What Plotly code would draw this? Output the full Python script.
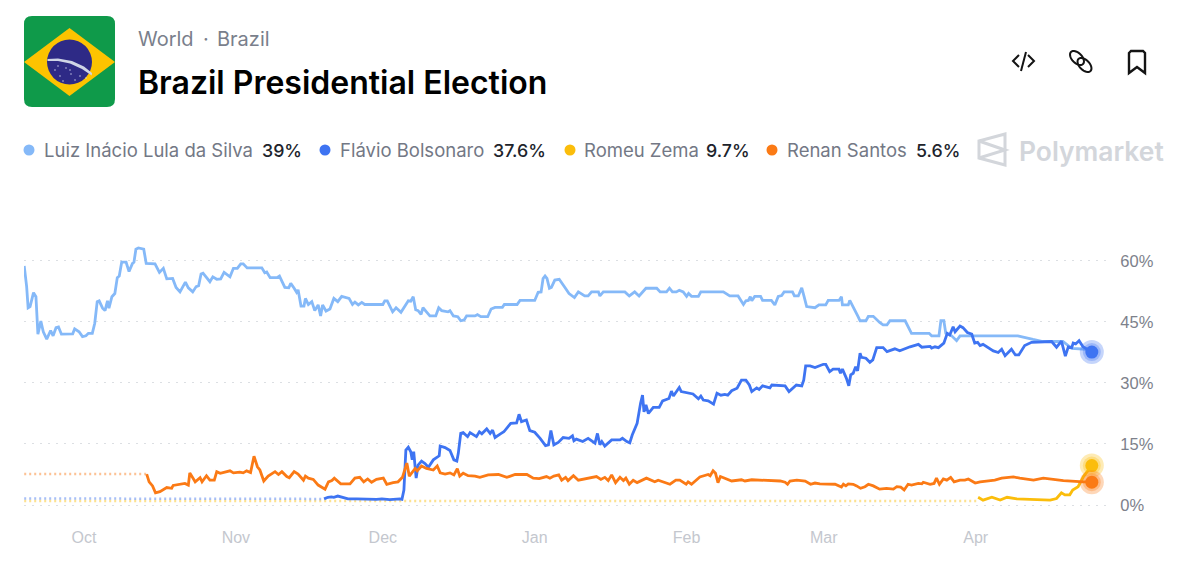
import math
import pandas as pd
import plotly.graph_objects as go

BASE = pd.Timestamp("2025-10-01")

tick_days = [0, 31, 61, 92, 123, 151, 182]
tick_labels = ["Oct", "Nov", "Dec", "Jan", "Feb", "Mar", "Apr"]
y_ticks = [0, 15, 30, 45, 60]
y_tick_labels = ["0%", "15%", "30%", "45%", "60%"]

lula_days = [-12.2,-11.7,-11.4,-11.0,-10.3,-9.8,-9.4,-8.8,-8.3,-7.6,-6.8,-6.3,-5.7,-5.2,-4.6,-3.5,-2.3,-1.9,-1.0,-0.3,0.4,0.9,1.7,2.2,2.7,3.1,3.8,4.3,4.8,5.1,5.7,6.3,6.8,7.2,7.7,8.6,9.2,9.9,10.2,10.6,11.1,12.2,12.7,14.5,15.4,16.2,16.9,18.1,18.8,19.6,20.7,21.3,22.2,22.9,23.4,23.9,24.3,25.7,26.3,27.1,27.9,28.6,29.8,30.5,31.3,32.0,32.5,33.3,36.3,36.9,37.3,38.0,39.4,39.9,40.3,41.0,41.8,42.2,42.9,43.4,43.7,44.3,44.9,45.2,45.8,46.5,47.1,47.8,48.3,48.7,49.4,50.2,51.0,51.8,52.6,54.1,54.8,55.3,56.0,56.7,57.3,61.0,61.4,61.9,63.0,63.7,64.7,65.5,66.2,66.7,67.2,67.7,68.2,68.8,69.2,69.9,70.6,71.8,72.4,73.0,74.3,74.7,75.4,76.3,76.9,77.6,78.1,79.8,80.3,81.0,82.4,83.1,83.9,85.4,85.8,88.4,89.0,92.0,92.7,93.3,93.7,94.1,94.5,95.0,95.4,96.1,97.0,98.2,99.0,100.1,100.9,102.2,102.9,103.6,105.0,105.3,106.0,110.4,111.3,112.4,113.3,114.7,116.9,117.6,118.9,119.5,120.1,120.9,121.5,122.3,123.0,123.4,124.0,125.4,125.9,130.5,131.8,133.5,134.6,135.1,135.6,136.0,136.3,136.9,138.1,138.5,140.3,141.0,141.7,142.4,142.9,144.6,145.0,145.8,146.5,146.9,147.5,149.2,150.0,151.4,151.9,154.1,154.6,154.8,156.0,156.3,157.0,158.0,158.4,159.6,160.1,161.1,162.4,163.1,163.9,164.5,167.6,168.9,172.5,173.0,174.5,174.9,175.5,175.9,177.1,178.1,178.8,190.6,193.7,195.7,199.8,201.6,204.6,205.7]
lula_values = [58.8,53.7,48.5,48.8,52.2,51.2,42.0,45.2,42.6,40.8,42.9,41.6,43.6,43.8,42.0,42.0,42.1,43.3,42.6,41.4,41.6,42.2,42.2,44.7,50.0,50.2,48.4,47.8,50.2,48.4,51.2,52.0,55.9,56.3,59.7,59.7,57.4,59.4,59.7,62.9,63.2,62.9,59.4,59.3,57.2,58.2,55.6,55.7,53.5,52.4,54.8,53.4,52.4,53.7,53.9,56.8,57.0,54.9,56.1,55.5,55.6,57.2,56.1,58.2,58.2,59.3,59.3,58.3,58.3,57.1,57.3,55.9,55.9,56.3,55.3,53.5,53.4,54.5,53.3,52.3,52.9,48.9,48.9,50.8,49.3,50.0,47.8,49.2,46.5,49.2,47.7,48.2,50.8,50.0,51.3,50.8,49.3,49.9,49.2,49.8,49.3,49.3,50.2,50.2,47.5,48.5,47.4,48.8,50.2,50.1,51.2,48.0,47.8,46.9,48.5,47.5,46.5,46.5,48.5,47.8,47.5,47.8,46.5,46.3,45.3,45.5,46.5,46.5,46.8,46.3,46.3,48.2,48.6,48.6,49.3,49.3,50.3,50.3,52.3,52.4,55.7,56.3,55.7,53.3,53.5,55.3,55.5,53.4,52.0,51.0,52.4,51.4,51.4,52.4,52.4,51.4,52.4,52.4,51.4,52.4,51.4,53.3,53.3,52.4,52.4,53.3,52.4,52.4,52.8,52.4,51.3,52.0,51.3,51.3,52.4,52.4,51.4,51.4,49.3,50.2,50.3,51.2,50.2,51.3,51.3,50.3,50.3,49.2,51.3,51.5,52.4,52.4,51.4,51.4,53.4,51.6,48.8,48.5,49.2,49.2,50.3,50.3,51.2,49.2,49.2,50.3,48.8,46.3,45.3,45.3,46.4,46.4,44.9,44.3,44.3,45.3,45.3,42.2,42.2,41.6,41.6,45.3,45.3,42.2,41.6,40.4,41.6,41.6,40.7,40.2,40.2,38.5,38.3,38.0]

flavio_days = [49.0,49.8,50.5,51.0,51.8,52.9,53.9,55.7,57.7,59.7,60.8,62.4,64.5,64.9,65.3,65.7,66.2,66.7,67.0,67.3,67.8,68.2,68.9,69.6,70.3,71.3,72.5,72.7,73.7,74.7,75.5,76.1,76.4,76.9,77.4,78.3,78.8,80.1,80.7,81.2,82.2,82.9,83.4,83.9,85.0,85.7,87.1,88.3,88.8,89.3,90.3,91.0,92.0,93.1,94.2,94.8,95.3,95.9,96.8,97.8,99.0,99.7,100.0,100.5,101.8,102.9,104.3,104.8,105.3,105.7,106.3,107.7,109.4,109.9,110.8,111.4,111.9,112.9,113.6,114.0,114.3,114.7,115.2,116.2,117.4,118.1,119.4,119.9,120.3,121.5,121.9,123.3,124.3,125.4,125.9,126.4,127.4,128.5,129.2,130.0,130.8,131.4,132.2,133.3,134.2,135.1,135.8,136.3,137.3,137.8,138.5,140.0,140.4,143.1,143.9,145.4,146.5,146.9,147.3,148.2,149.2,150.9,151.4,152.2,152.9,154.1,154.4,154.8,155.6,156.1,156.5,157.0,157.5,157.9,158.4,158.7,159.6,160.4,161.0,161.8,163.1,163.9,165.5,166.5,168.6,170.3,171.0,172.7,173.0,173.7,174.4,175.5,176.2,176.7,177.4,177.8,178.8,179.4,180.3,181.2,181.8,182.4,182.9,183.5,185.6,186.6,187.3,188.0,189.3,190.1,190.8,192.0,193.4,197.5,198.5,199.5,200.3,200.9,201.6,201.9,202.4,203.1,203.9,205.7]
flavio_values = [1.5,1.9,2.0,1.9,2.2,1.9,1.5,1.5,1.4,1.4,1.5,1.3,1.5,1.4,3.7,13.5,14.2,13.1,11.1,13.1,6.6,9.8,10.8,10.2,9.3,11.1,12.1,14.5,14.1,13.4,11.1,10.8,12.7,17.6,17.8,16.8,17.8,16.8,18.0,17.5,18.7,17.6,18.4,16.6,17.5,18.0,20.1,20.2,22.3,20.5,20.9,18.3,17.9,16.4,14.6,14.8,18.3,14.8,15.4,16.6,16.4,17.0,15.8,16.2,15.6,16.4,15.2,17.6,14.8,15.6,14.5,16.0,16.0,16.4,15.6,15.3,17.2,20.1,25.0,27.0,22.9,24.6,22.5,24.0,24.0,25.6,26.2,28.0,26.8,28.9,27.9,27.5,27.3,26.1,26.8,25.8,25.6,24.8,27.5,27.0,27.2,27.0,28.1,28.7,30.7,30.7,29.5,27.9,28.8,28.4,29.3,28.8,29.5,29.3,27.9,29.5,29.3,30.7,34.2,34.2,33.8,34.6,34.6,32.8,33.4,33.4,32.4,33.4,31.2,29.3,32.0,32.4,34.0,33.0,37.3,36.3,36.1,35.1,35.7,38.7,38.7,37.7,38.4,37.9,38.9,39.5,38.8,39.0,38.6,38.9,38.7,39.8,42.2,41.8,43.8,42.6,44.0,43.6,42.4,42.0,39.8,40.0,39.2,39.5,37.9,37.5,38.3,36.7,38.3,36.9,36.9,39.2,40.0,40.2,38.8,40.3,36.6,38.9,38.7,39.8,39.6,40.4,38.9,37.6]

renan_days = [12.8,13.3,14.0,14.6,15.5,16.9,17.9,18.2,20.6,21.3,21.6,22.7,23.7,24.1,25.0,25.7,26.6,27.1,27.8,29.8,30.5,31.8,32.5,33.2,34.0,34.7,35.4,35.9,36.7,37.6,39.0,39.7,40.4,41.4,41.9,42.9,43.7,44.8,45.2,45.8,46.8,47.8,49.2,49.9,50.6,51.1,52.4,54.3,55.3,56.3,57.1,57.9,58.7,59.7,61.1,61.8,63.1,64.1,65.0,65.9,66.4,67.6,68.0,68.9,69.9,71.3,72.1,72.7,73.7,74.7,75.5,76.2,76.7,77.4,78.4,79.8,80.8,82.5,84.6,86.3,88.0,90.4,91.7,92.9,94.4,95.1,95.9,96.9,97.5,98.3,98.8,99.9,100.9,103.3,104.6,105.5,106.3,107.0,107.7,108.5,109.4,110.1,110.6,111.3,112.1,112.9,114.8,116.5,117.2,119.6,120.8,121.6,122.9,123.3,124.0,125.7,126.5,127.4,127.8,128.4,128.9,129.4,129.9,131.2,132.2,134.2,134.9,136.3,142.1,143.1,143.6,144.1,145.5,147.2,148.3,149.2,150.2,153.3,154.6,155.0,155.5,156.0,157.0,157.7,158.5,159.4,160.1,161.1,162.4,163.8,165.2,165.9,166.7,167.4,168.2,168.9,170.3,171.0,171.3,172.7,173.5,174.0,174.6,175.4,176.1,176.9,177.6,178.8,179.8,180.5,181.9,182.9,185.9,187.3,189.7,191.0,193.8,195.8,199.9,204.0,205.7]
renan_values = [7.6,5.7,4.7,3.0,3.3,4.3,4.1,4.8,5.3,4.9,7.9,5.7,6.7,5.7,7.2,6.1,6.1,8.2,7.8,8.4,7.9,8.1,7.9,8.4,8.0,12.0,9.4,8.6,5.9,7.1,8.2,7.5,8.2,7.0,6.7,8.2,7.6,6.1,7.1,6.6,6.3,4.9,3.9,5.7,6.0,6.6,5.2,5.2,6.6,6.8,5.7,6.4,5.6,6.3,6.6,5.1,5.5,5.7,6.8,10.3,7.1,9.0,8.4,9.6,9.0,8.6,9.6,7.9,7.6,7.9,7.4,8.9,7.1,7.8,7.2,7.1,6.8,7.4,7.5,6.8,7.5,7.5,6.6,6.5,7.0,6.6,7.1,7.4,6.1,6.8,6.0,7.2,6.1,6.8,7.0,6.3,6.8,6.0,7.4,5.5,6.8,6.0,6.6,5.1,6.1,5.5,6.6,5.7,6.1,5.1,6.1,6.1,5.1,5.7,5.1,6.9,7.2,7.5,7.2,8.4,7.8,5.5,7.0,6.4,5.9,6.2,5.9,6.2,5.9,5.6,5.1,5.9,6.1,5.9,5.1,5.4,5.2,5.1,4.4,5.1,4.7,5.2,5.1,4.7,4.1,4.5,5.1,4.7,3.9,4.1,3.9,4.5,4.4,3.7,5.1,4.9,5.3,5.2,5.6,5.1,5.3,6.6,5.1,6.4,6.1,6.8,5.7,6.1,6.1,6.4,5.4,5.7,6.1,6.6,6.9,6.6,6.1,6.6,6.0,5.7,5.6]

romeu_days = [182.5,183.5,185.3,187.0,188.4,190.4,193.1,197.2,198.5,199.5,200.2,201.2,201.8,202.9,204.0,205.7]
romeu_values = [1.9,1.2,1.9,1.2,1.9,1.5,1.4,1.2,1.6,3.0,2.5,2.5,3.7,4.5,7.0,9.7]

# Flat stretches before each market's trading starts (dotted in the chart)
flavio_pre_days = [-12.2, 49.0]
flavio_pre_values = [1.6, 1.5]
renan_pre_days = [-12.2, 12.8]
renan_pre_values = [7.6, 7.6]
romeu_pre_days = [-12.2, 182.5]
romeu_pre_values = [1.0, 1.0]

names = ["Luiz Inácio Lula da Silva", "Flávio Bolsonaro", "Romeu Zema", "Renan Santos"]
pcts = ["39%", "37.6%", "9.7%", "5.6%"]

LULA, FLAVIO, ROMEU, RENAN = "#85b9f8", "#3e74f2", "#fbbd0b", "#fb7a15"

W, H = 1200, 574
ML, MR, MT, MB = 24, 93, 240, 64


def dates(days):
    return [BASE + pd.Timedelta(days=float(d)) for d in days]


def px(x):
    return (x - ML) / (W - ML - MR)


def py(y):
    return 1 - (y - MT) / (H - MT - MB)


fig = go.Figure()


def add_dotted(days, values, color):
    fig.add_trace(go.Scatter(x=dates(days), y=values, mode="lines", hoverinfo="skip",
                             line=dict(color=color, width=2.5, dash="2px,3px"), opacity=0.45))


def add_line(days, values, color):
    fig.add_trace(go.Scatter(x=dates(days), y=values, mode="lines",
                             line=dict(color=color, width=2.8, shape="linear")))


def add_end(days, values, color):
    x, y = dates(days[-1:]), values[-1:]
    for size, op in ((24, 0.3), (18, 0.3), (13, 1)):
        fig.add_trace(go.Scatter(x=x, y=y, mode="markers", hoverinfo="skip",
                                 marker=dict(color=color, size=size, opacity=op, line=dict(width=0))))


add_dotted(romeu_pre_days, romeu_pre_values, ROMEU)
add_dotted(renan_pre_days, renan_pre_values, RENAN)
add_dotted(flavio_pre_days, flavio_pre_values, FLAVIO)
add_line(lula_days, lula_values, LULA)
add_line(flavio_days, flavio_values, FLAVIO)
add_line(romeu_days, romeu_values, ROMEU)
add_line(renan_days, renan_values, RENAN)
add_end(flavio_days, flavio_values, FLAVIO)
add_end(romeu_days, romeu_values, ROMEU)
add_end(renan_days, renan_values, RENAN)

shapes = []


def P(points, close=False):
    s = "M " + " L ".join(f"{px(x):.5f},{py(y):.5f}" for x, y in points)
    return s + (" Z" if close else "")


def add_path(points, fill=None, line=None, width=0, close=True):
    shapes.append(dict(type="path", xref="paper", yref="paper", path=P(points, close),
                       fillcolor=fill or "rgba(0,0,0,0)",
                       line=dict(color=line or "rgba(0,0,0,0)", width=width)))


def add_circle(cx, cy, r, color):
    shapes.append(dict(type="circle", xref="paper", yref="paper", x0=px(cx - r), x1=px(cx + r),
                       y0=py(cy + r), y1=py(cy - r), fillcolor=color, line=dict(width=0)))


def ellipse(cx, cy, a, b, angle_deg, n=32):
    t = math.radians(angle_deg)
    pts = []
    for i in range(n):
        u = 2 * math.pi * i / n
        ex, ey = a * math.cos(u), b * math.sin(u)
        pts.append((cx + ex * math.cos(t) - ey * math.sin(t), cy + ex * math.sin(t) + ey * math.cos(t)))
    return pts


def rounded(x0, y0, x1, y1, r):
    return ("M {} L {} Q {} {} L {} Q {} {} L {} Q {} {} L {} Q {} {} Z").format(
        f"{px(x0+r):.5f},{py(y0):.5f}", f"{px(x1-r):.5f},{py(y0):.5f}",
        f"{px(x1):.5f},{py(y0):.5f}", f"{px(x1):.5f},{py(y0+r):.5f}",
        f"{px(x1):.5f},{py(y1-r):.5f}",
        f"{px(x1):.5f},{py(y1):.5f}", f"{px(x1-r):.5f},{py(y1):.5f}",
        f"{px(x0+r):.5f},{py(y1):.5f}",
        f"{px(x0):.5f},{py(y1):.5f}", f"{px(x0):.5f},{py(y1-r):.5f}",
        f"{px(x0):.5f},{py(y0+r):.5f}",
        f"{px(x0):.5f},{py(y0):.5f}", f"{px(x0+r):.5f},{py(y0):.5f}")


# Flag
shapes.append(dict(type="path", xref="paper", yref="paper", path=rounded(24, 16, 115, 107, 8),
                   fillcolor="#0f9a4a", line=dict(width=0)))
add_path([(24, 62), (69.5, 28), (115, 62), (69.5, 96)], fill="#fdc300")
add_circle(69.5, 62, 22.5, "#2e2a86")
add_path([(47.5, 59), (58, 58.5), (72, 61), (84, 66.5), (92, 73), (91.7, 75.5), (82, 69), (70, 63.5), (58, 61), (47.5, 61)],
         fill="#cfd5e6")
for sx, sy in [(55, 70), (60, 76), (66, 68), (71, 74), (75, 80), (80, 76), (63, 81), (86, 78), (70, 70), (58, 66)]:
    add_circle(sx, sy, 0.7, "#d8dcf0")

# Legend dots
for cx, col in zip([29, 325, 570, 772], [LULA, FLAVIO, ROMEU, RENAN]):
    add_circle(cx, 150, 5.5, col)

# Icons: code, link, bookmark
ICON = "#141414"
add_path([(1019, 55), (1013, 61), (1019, 67)], line=ICON, width=2, close=False)
add_path([(1028, 55), (1034, 61), (1028, 67)], line=ICON, width=2, close=False)
add_path([(1026, 52), (1021, 71)], line=ICON, width=2, close=False)
add_path(ellipse(1077, 58, 8.5, 5, 45), line=ICON, width=2)
add_path(ellipse(1084.5, 65, 8.5, 5, 45), line=ICON, width=2)
add_path([(1129, 53), (1131, 51), (1143, 51), (1145, 53), (1145, 73), (1137, 67), (1129, 73)],
         line=ICON, width=2.4)

# Polymarket logo
LOGO = "#d3d6db"
add_path([(979, 141), (1005, 134), (1005, 165), (979, 158)], line=LOGO, width=3)
add_path([(979, 141), (1005, 150), (979, 158)], line=LOGO, width=3, close=False)

annotations = []


def text(x, y, s, size, color, weight=400, family="Inter", anchor="left"):
    # annotation boxes carry a 2px inner offset
    annotations.append(dict(xref="paper", yref="paper", x=px(x - 2), y=py(y), text=s, showarrow=False,
                            xanchor=anchor, yanchor="middle", align="left",
                            font=dict(size=size, color=color, family=family, weight=weight)))


text(138, 39, "World", 20, "#7a7f8c")
text(203, 39, "·", 20, "#7a7f8c")
text(217, 39, "Brazil", 20, "#7a7f8c")
text(138, 82, "Brazil Presidential Election", 32, "#000000", 600)

for x, s in zip([44, 340, 584, 787], names):
    text(x, 150, s, 18.5, "#737885")
for x, s in zip([262, 493, 706, 916], pcts):
    text(x, 150, s, 17.8, "#20232b", 500)
text(1019, 151, "Polymarket", 26.4, LOGO, 600)

fig.update_layout(
    width=W, height=H, autosize=False,
    margin=dict(l=ML, r=MR, t=MT, b=MB, pad=0),
    paper_bgcolor="white", plot_bgcolor="white",
    showlegend=False, shapes=shapes, annotations=annotations,
    xaxis=dict(
        type="date",
        range=[BASE + pd.Timedelta(days=-12.24), BASE + pd.Timedelta(days=208.8)],
        tickvals=dates(tick_days), ticktext=tick_labels,
        showgrid=False, zeroline=False, showline=False,
        ticks="outside", ticklen=13, tickcolor="rgba(0,0,0,0)",
        tickfont=dict(family="Liberation Sans", size=16, color="#c4c7ce"),
    ),
    yaxis=dict(
        side="right", range=[-1.23, 65.16],
        tickvals=y_ticks, ticktext=y_tick_labels,
        showgrid=True, griddash="2px,6px", gridcolor="#dcdfe3", gridwidth=1,
        zeroline=False, showline=False,
        ticks="outside", ticklen=9, tickcolor="rgba(0,0,0,0)",
        tickfont=dict(family="Liberation Sans", size=16.5, color="#7d818b"),
    ),
)

fig.write_html("out.html", config=dict(displayModeBar=False),
               post_script="document.body.style.margin='0';document.body.style.overflow='hidden';")
